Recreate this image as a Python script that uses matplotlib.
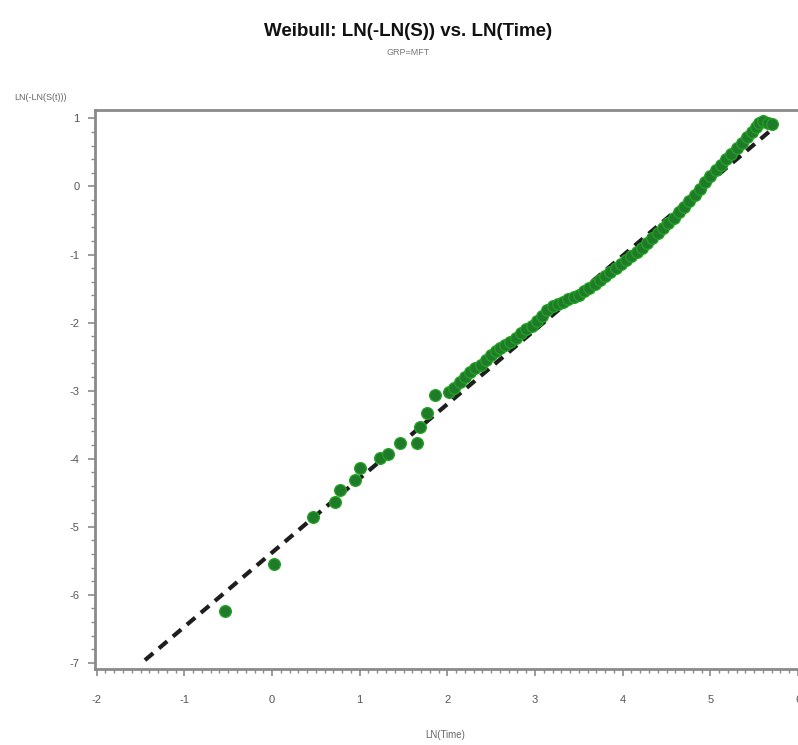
import matplotlib
matplotlib.use("Agg")
import matplotlib.pyplot as plt
from matplotlib.ticker import MultipleLocator

plt.rcParams["axes.unicode_minus"] = False

# ---- data ----
ln_time = [-0.54, 0.02, 0.47, 0.72, 0.77, 0.95, 1.00, 1.23, 1.32, 1.46, 1.65, 1.69,
           1.77, 1.86, 2.02, 2.08, 2.14, 2.20, 2.26, 2.32, 2.38, 2.44, 2.50, 2.55,
           2.60, 2.66, 2.72, 2.78, 2.84, 2.90, 2.96, 3.02, 3.08, 3.14, 3.20, 3.26,
           3.32, 3.38, 3.44, 3.50, 3.56, 3.62, 3.68, 3.74, 3.80, 3.86, 3.92, 3.98,
           4.04, 4.10, 4.16, 4.22, 4.28, 4.34, 4.40, 4.46, 4.52, 4.58, 4.64, 4.70,
           4.76, 4.82, 4.88, 4.94, 5.00, 5.06, 5.12, 5.18, 5.24, 5.30, 5.36, 5.42,
           5.48, 5.52, 5.56, 5.60, 5.66, 5.70]
ln_ln_s = [-6.24, -5.55, -4.86, -4.64, -4.46, -4.32, -4.14, -3.99, -3.93, -3.77, -3.77, -3.54,
           -3.33, -3.07, -3.02, -2.96, -2.88, -2.80, -2.72, -2.67, -2.62, -2.55, -2.47, -2.41,
           -2.37, -2.33, -2.28, -2.22, -2.16, -2.10, -2.05, -1.98, -1.90, -1.82, -1.76, -1.72,
           -1.69, -1.66, -1.63, -1.59, -1.54, -1.49, -1.44, -1.38, -1.32, -1.26, -1.20, -1.14,
           -1.08, -1.02, -0.96, -0.90, -0.83, -0.76, -0.69, -0.61, -0.54, -0.46, -0.38, -0.30,
           -0.22, -0.13, -0.04, 0.06, 0.16, 0.24, 0.32, 0.40, 0.47, 0.56, 0.64, 0.72,
           0.80, 0.87, 0.94, 0.96, 0.94, 0.92]

fit_x = [-1.45, 5.74]
fit_y = [-6.96, 0.88]

x_ticks = [-2, -1, 0, 1, 2, 3, 4, 5, 6]
y_ticks = [-7, -6, -5, -4, -3, -2, -1, 0, 1]

title = "Weibull: LN(-LN(S)) vs. LN(Time)"
subtitle = "GRP=MFT"
xlabel = "LN(Time)"
ylabel = "LN(-LN(S(t)))"

# ---- figure ----
fig = plt.figure(figsize=(7.98, 7.45), dpi=100)
ax = fig.add_axes([0.119, 0.102, 0.881, 0.750])

ax.plot(fit_x, fit_y, color="#1e1e1e", lw=3.0, dashes=(2.6, 1.8), zorder=2)
ax.scatter(ln_time, ln_ln_s, s=70, facecolor="#1f7a2a", edgecolor="#22a022",
           linewidths=1.0, zorder=3)

ax.set_xlim(-2.02, 6.0)
ax.set_ylim(-7.09, 1.12)
ax.set_xticks(x_ticks)
ax.set_yticks(y_ticks)
ax.xaxis.set_minor_locator(MultipleLocator(0.1))
ax.yaxis.set_minor_locator(MultipleLocator(0.2))

grey = "#8a8a8a"
for side in ["left", "bottom", "top"]:
    ax.spines[side].set_color(grey)
    ax.spines[side].set_linewidth(2.0)
ax.spines["right"].set_visible(False)

fam = ["Liberation Sans", "DejaVu Sans"]
ax.tick_params(axis="both", which="major", direction="out", length=5, width=1.2,
               colors=grey, labelcolor="#555555", labelsize=8, pad=6)
ax.tick_params(axis="both", which="minor", direction="out", length=3, width=1.0,
               colors=grey)
ax.tick_params(axis="x", which="major", pad=14)
for lab in ax.get_xticklabels() + ax.get_yticklabels():
    lab.set_family(fam)

fig.text(0.511, 0.958, title, ha="center", va="center", fontsize=13.5,
         fontweight="bold", family=fam, color="#111111")
fig.text(0.511, 0.930, subtitle, ha="center", va="center", fontsize=6.5,
         family=fam, color="#777777")
fig.text(0.018, 0.869, ylabel, ha="left", va="center", fontsize=6.5,
         family=fam, color="#666666")
fig.text(0.558, 0.013, xlabel, ha="center", va="center", fontsize=7,
         family=fam, color="#666666")

fig.savefig("out.png", dpi=100)
